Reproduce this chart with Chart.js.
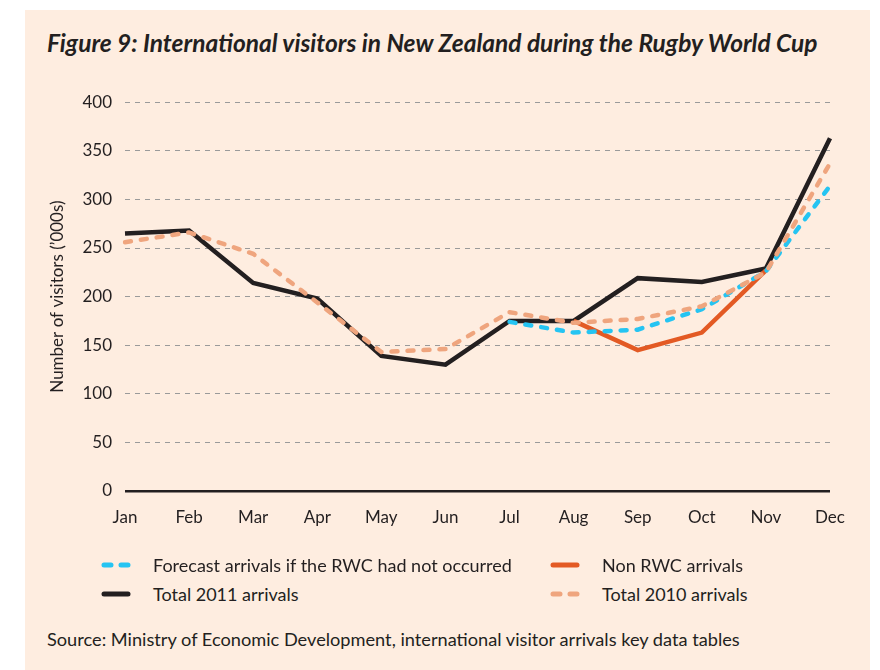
<!DOCTYPE html>
<html lang="en">
<head>
  <meta charset="utf-8">
  <title>International visitors in New Zealand during the Rugby World Cup</title>
  <style>
    body { margin: 0; background: #fff; font-family: Lato, "Noto Sans", sans-serif; color: #231f20; }
    #panel { position: absolute; left: 25px; top: 10px; width: 845px; height: 660px; background: #feede0; }
    #title { position: absolute; left: 22px; top: 18px; font-size: 24.5px; font-weight: bold; font-style: italic; white-space: nowrap; }
    #wrap { position: absolute; left: 0; top: 69px; width: 845px; height: 480px; }
    .leg { position: absolute; font-size: 18px; white-space: nowrap; display: flex; align-items: center; }
    .leg svg { margin-right: 22px; }
    #source { position: absolute; left: 22px; top: 618px; font-size: 18.2px; white-space: nowrap; }
  </style>
</head>
<body>
  <div id="panel">
    <div id="title">Figure 9: International visitors in New Zealand during the Rugby World Cup</div>
    <div id="wrap"><canvas id="chart" width="845" height="480"></canvas></div>

    <!-- legend, two columns like the original -->
    <div class="leg" style="left:76px; top:544px">
      <svg width="30" height="8"><line x1="3" y1="4" x2="27" y2="4" stroke="#25c4f2" stroke-width="5" stroke-linecap="round" stroke-dasharray="7 10"/></svg>
      Forecast arrivals if the RWC had not occurred
    </div>
    <div class="leg" style="left:525px; top:544px">
      <svg width="30" height="8"><line x1="3" y1="4" x2="27" y2="4" stroke="#e35a24" stroke-width="5" stroke-linecap="round"/></svg>
      Non RWC arrivals
    </div>
    <div class="leg" style="left:76px; top:573px">
      <svg width="30" height="8"><line x1="3" y1="4" x2="27" y2="4" stroke="#231f20" stroke-width="5" stroke-linecap="round"/></svg>
      Total 2011 arrivals
    </div>
    <div class="leg" style="left:525px; top:573px">
      <svg width="30" height="8"><line x1="3" y1="4" x2="27" y2="4" stroke="#efa57e" stroke-width="5" stroke-linecap="round" stroke-dasharray="7 10"/></svg>
      Total 2010 arrivals
    </div>

    <div id="source">Source: Ministry of Economic Development, international visitor arrivals key data tables</div>
  </div>

  <script src="https://cdn.jsdelivr.net/npm/chart.js"></script>
  <script>
    // data, thousands of visitors
    const months = ['Jan', 'Feb', 'Mar', 'Apr', 'May', 'Jun', 'Jul', 'Aug', 'Sep', 'Oct', 'Nov', 'Dec'];
    const total2011 = [265, 268, 214, 198, 139, 130, 175, 175, 219, 215, 229, 363];
    const total2010 = [256, 266, 244, 194, 143, 146, 184, 173, 177, 190, 225, 337];
    const forecast  = [null, null, null, null, null, null, 174, 163, 166, 187, 226, 314];
    const nonRwc    = [null, null, null, null, null, null, null, 175, 145, 163, 227, null];
    const yTicks = [0, 50, 100, 150, 200, 250, 300, 350, 400];

    const ctx = document.getElementById('chart').getContext('2d');
    new Chart(ctx, {
      type: 'line',
      data: {
        labels: months,
        datasets: [
          { label: 'Total 2010 arrivals', data: total2010, borderColor: '#efa57e',
            borderDash: [6, 10], borderWidth: 4.5, borderCapStyle: 'round' },
          { label: 'Forecast arrivals if the RWC had not occurred', data: forecast, borderColor: '#25c4f2',
            borderDash: [6, 10], borderWidth: 4.5, borderCapStyle: 'round' },
          { label: 'Non RWC arrivals', data: nonRwc, borderColor: '#e35a24', borderWidth: 4.5 },
          { label: 'Total 2011 arrivals', data: total2011, borderColor: '#231f20', borderWidth: 4.5 }
        ]
      },
      options: {
        responsive: false,
        animation: false,
        layout: { padding: { top: 4, right: 40, left: 22, bottom: 0 } },
        elements: { point: { radius: 0 }, line: { tension: 0, fill: false, borderJoinStyle: 'miter' } },
        plugins: { legend: { display: false }, tooltip: { enabled: false } },
        scales: {
          x: {
            grid: { display: false },
            border: { display: false },
            ticks: { color: '#231f20', font: { family: 'Lato', size: 17 }, padding: 8, maxRotation: 0 },
            afterFit: s => { s.height = 68; }
          },
          y: {
            min: 0, max: 400,
            afterBuildTicks: s => { s.ticks = yTicks.map(v => ({ value: v })); },
            afterFit: s => { s.width = 78; },
            grid: {
              color: c => c.tick.value === 0 ? '#231f20' : '#9a9a9a',
              lineWidth: c => c.tick.value === 0 ? 2.5 : 1,
              drawTicks: false
            },
            border: { display: false, dash: c => c.tick && c.tick.value === 0 ? [] : [5, 5] },
            ticks: { color: '#231f20', font: { family: 'Lato', size: 17 }, padding: 13 },
            title: { display: true, text: 'Number of visitors (’000s)', color: '#231f20',
                     font: { family: 'Lato', size: 17 }, padding: 0 }
          }
        }
      }
    });
  </script>
</body>
</html>
